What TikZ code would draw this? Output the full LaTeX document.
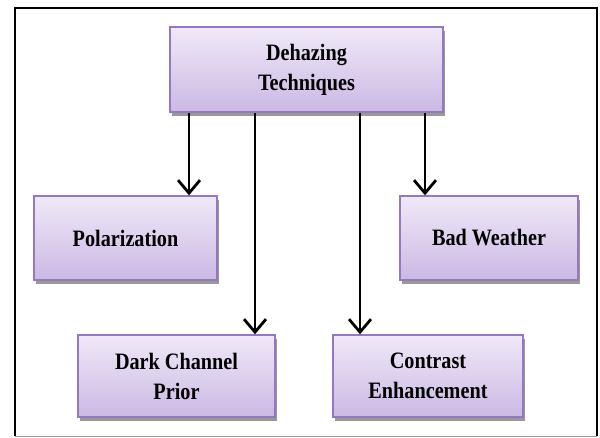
\documentclass[tikz,border=0pt]{standalone}
\usepackage{fontspec}
\setmainfont{Liberation Serif}[FakeStretch=0.86]
\usetikzlibrary{arrows.meta,shadows}

\definecolor{boxtop}{RGB}{240,233,248}
\definecolor{boxbot}{RGB}{203,184,228}
\definecolor{boxline}{RGB}{150,120,192}

\tikzset{
  techbox/.style={draw=boxline, line width=1.4pt, top color=boxtop, bottom color=boxbot,
    align=center, font=\fontsize{23.5}{30}\selectfont\bfseries, text=black,
    drop shadow={shadow xshift=1.5pt, shadow yshift=-3.5pt, fill=black!40, opacity=1}},
  branch/.style={line width=2.8pt, -{Straight Barb[length=13pt,width=22pt,line width=2.8pt]}}
}

\begin{document}
\begin{tikzpicture}[x=1pt,y=-1pt]

      \useasboundingbox (0,0) rectangle (600,437);

% Frame
      \draw[black!40, line width=1pt] (15,436) -- (597,436);
      \draw[line width=2.4pt] (15,436) -- (15,8) -- (597,8) -- (597,436);

% Boxes
      \node[techbox, minimum width=273pt, minimum height=85pt] (tech) at (306.5,69.5) {Dehazing\\Techniques};
      \node[techbox, minimum width=183pt, minimum height=84pt] (pol) at (125.5,238) {Polarization};
      \node[techbox, minimum width=178pt, minimum height=84pt] (bad) at (489,238) {Bad Weather};
      \node[techbox, minimum width=197pt, minimum height=82pt] (dark) at (176.5,376) {Dark Channel\\Prior};
      \node[techbox, minimum width=190pt, minimum height=82pt] (contrast) at (428,376) {Contrast\\Enhancement};

% Arrows
      \draw[branch] (tech.south -| 189,0) -- (pol.north -| 189,0);
      \draw[branch] (tech.south -| 255,0) -- (dark.north -| 255,0);
      \draw[branch] (tech.south -| 360,0) -- (contrast.north -| 360,0);
      \draw[branch] (tech.south -| 425,0) -- (bad.north -| 425,0);

    \end{tikzpicture}
\end{document}
